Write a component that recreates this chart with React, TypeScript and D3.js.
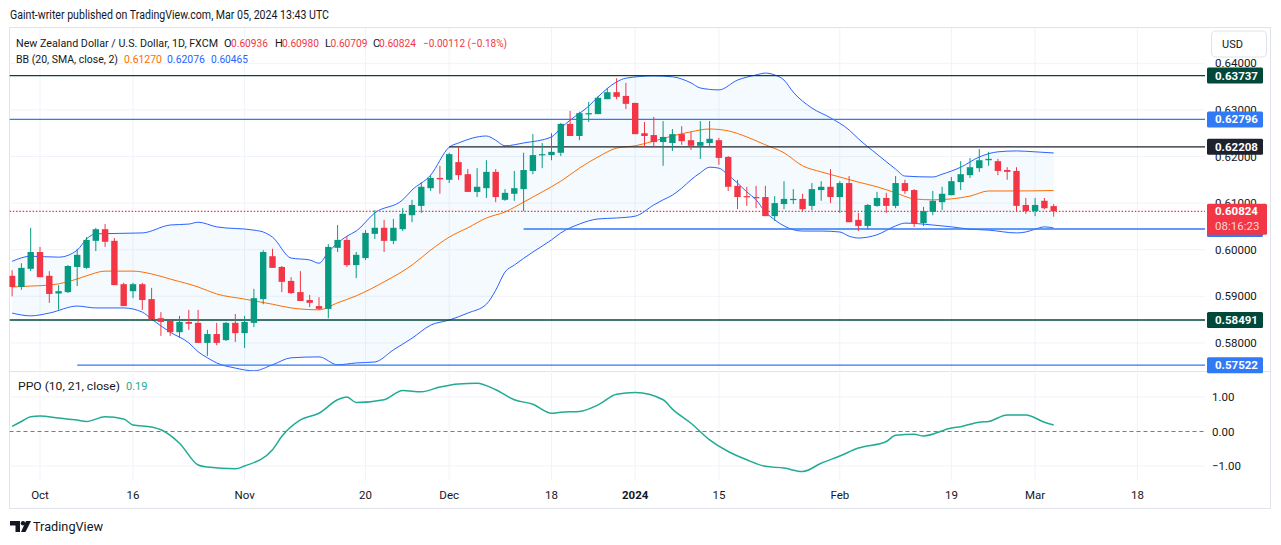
import * as d3 from "d3";

// NZD/USD daily candles, Sep 27 2023 -> Mar 05 2024 (bar index 0..112)
const open = [
  0.5944, 0.592, 0.5959, 0.5995, 0.5944, 0.5906, 0.5909, 0.5963, 0.5961, 0.6019,
  0.6044, 0.6019, 0.5926, 0.5911, 0.5926, 0.5894, 0.5853, 0.5847, 0.5823, 0.5845,
  0.5843, 0.58, 0.5819, 0.5806, 0.5843, 0.5821, 0.5843, 0.5894, 0.5986, 0.5963,
  0.5933, 0.5909, 0.5892, 0.5879, 0.5873, 0.6004, 0.6021, 0.5967, 0.5982, 0.6034,
  0.6047, 0.6019, 0.6044, 0.6074, 0.6094, 0.6132, 0.6154, 0.615, 0.6188, 0.6162,
  0.6124, 0.6132, 0.6167, 0.6107, 0.612, 0.613, 0.6169, 0.6203, 0.6203, 0.6208,
  0.627, 0.6244, 0.6291, 0.6291, 0.6323, 0.6338, 0.633, 0.6315, 0.625, 0.6246,
  0.6231, 0.6229, 0.6248, 0.6235, 0.6223, 0.6229, 0.6235, 0.6199, 0.6137, 0.6115,
  0.6113, 0.6113, 0.6072, 0.6098, 0.6107, 0.6109, 0.6094, 0.6128, 0.6135, 0.6113,
  0.6143, 0.6064, 0.6051, 0.6094, 0.6111, 0.6094, 0.6143, 0.6128, 0.6057, 0.6081,
  0.6102, 0.6117, 0.6145, 0.616, 0.6175, 0.6192, 0.619, 0.6171, 0.6169, 0.6096,
  0.6083, 0.6105, 0.60936,
];
const high = [
  0.5956, 0.5971, 0.6047, 0.6006, 0.5954, 0.5924, 0.5967, 0.6002, 0.6027, 0.6047,
  0.6055, 0.6025, 0.5929, 0.5929, 0.5929, 0.5918, 0.5866, 0.5849, 0.5858, 0.5871,
  0.5871, 0.5828, 0.5843, 0.5845, 0.5862, 0.5858, 0.5916, 0.5999, 0.6002, 0.5965,
  0.5941, 0.5954, 0.5903, 0.5898, 0.6012, 0.6053, 0.6029, 0.5995, 0.6042, 0.6085,
  0.6064, 0.6066, 0.6089, 0.6107, 0.6145, 0.616, 0.618, 0.6208, 0.622, 0.6173,
  0.6175, 0.6192, 0.6173, 0.613, 0.6169, 0.6208, 0.6248, 0.6229, 0.625, 0.6272,
  0.6298, 0.6296, 0.6317, 0.633, 0.6347, 0.6368, 0.6358, 0.6315, 0.6274, 0.6285,
  0.6276, 0.6259, 0.6265, 0.6253, 0.6276, 0.6276, 0.624, 0.6201, 0.615, 0.6135,
  0.6137, 0.6137, 0.6115, 0.6147, 0.613, 0.612, 0.6143, 0.6147, 0.6173, 0.6147,
  0.6158, 0.6079, 0.6098, 0.6124, 0.6122, 0.6158, 0.615, 0.613, 0.6092, 0.6126,
  0.6135, 0.6156, 0.619, 0.6197, 0.6216, 0.621, 0.6195, 0.6177, 0.6177, 0.6111,
  0.6111, 0.6111, 0.6098,
];
const low = [
  0.59, 0.5914, 0.5954, 0.5941, 0.5886, 0.5871, 0.5907, 0.5922, 0.5959, 0.5997,
  0.6006, 0.5924, 0.5879, 0.5896, 0.5871, 0.5851, 0.5815, 0.5815, 0.5811, 0.5828,
  0.58, 0.5772, 0.5795, 0.5804, 0.5802, 0.5789, 0.5834, 0.5883, 0.5961, 0.5909,
  0.5905, 0.589, 0.5877, 0.5871, 0.5853, 0.5995, 0.5963, 0.5939, 0.5978, 0.6023,
  0.5995, 0.6012, 0.604, 0.6059, 0.6079, 0.6126, 0.612, 0.6143, 0.615, 0.6124,
  0.6113, 0.6111, 0.6102, 0.6105, 0.6105, 0.6083, 0.6162, 0.6175, 0.6192, 0.6201,
  0.6244, 0.6235, 0.6274, 0.6291, 0.6323, 0.6323, 0.6302, 0.6248, 0.622, 0.622,
  0.618, 0.6212, 0.6225, 0.6214, 0.6195, 0.622, 0.6182, 0.6126, 0.6087, 0.6094,
  0.6089, 0.6072, 0.6062, 0.6087, 0.6098, 0.6083, 0.6085, 0.6105, 0.61, 0.6079,
  0.6059, 0.604, 0.6044, 0.6092, 0.6079, 0.6089, 0.612, 0.6049, 0.6051, 0.6074,
  0.6085, 0.6117, 0.6128, 0.6154, 0.6167, 0.618, 0.616, 0.615, 0.6083, 0.6077,
  0.6072, 0.6087, 0.60709,
];
const close = [
  0.592, 0.5961, 0.5995, 0.5941, 0.5905, 0.5911, 0.5965, 0.5989, 0.6021, 0.6044,
  0.6017, 0.5924, 0.5879, 0.5926, 0.5892, 0.5851, 0.5845, 0.5823, 0.5845, 0.5841,
  0.58, 0.5819, 0.58, 0.5843, 0.5821, 0.5845, 0.5896, 0.5995, 0.5961, 0.5931,
  0.5907, 0.589, 0.5886, 0.5873, 0.6006, 0.6021, 0.5967, 0.5989, 0.6036, 0.6047,
  0.6019, 0.6047, 0.6077, 0.6096, 0.6135, 0.6154, 0.6151, 0.6205, 0.616, 0.6124,
  0.6135, 0.6167, 0.6113, 0.6122, 0.6132, 0.6171, 0.6203, 0.6205, 0.621, 0.627,
  0.6244, 0.6293, 0.6293, 0.6326, 0.6338, 0.6328, 0.6313, 0.6248, 0.6244, 0.6231,
  0.6242, 0.6248, 0.6233, 0.6223, 0.6231, 0.6238, 0.6197, 0.6135, 0.6113, 0.6113,
  0.6111, 0.6072, 0.61, 0.6109, 0.6109, 0.6087, 0.613, 0.6135, 0.6113, 0.6143,
  0.6059, 0.6051, 0.6096, 0.6111, 0.6094, 0.6143, 0.6126, 0.6057, 0.6083, 0.6105,
  0.612, 0.6147, 0.6162, 0.6177, 0.6192, 0.6195, 0.6169, 0.6167, 0.6094, 0.6083,
  0.6096, 0.6089, 0.60824,
];

// Bollinger Bands (20, SMA, close, 2): [bar, price]
const bbUpper: [number, number][] = [
  [0, 0.5975], [2, 0.5986], [5, 0.5984], [7, 0.5999], [8, 0.6023], [9, 0.6034],
  [14, 0.6036], [17, 0.6053], [19, 0.6055], [20, 0.6059], [22, 0.6049], [26, 0.6042],
  [27, 0.6038], [28, 0.6027], [30, 0.5982], [32, 0.5978], [33, 0.5971], [34, 0.5995],
  [36, 0.6029], [37, 0.604], [39, 0.6079], [42, 0.6107], [43, 0.6128], [45, 0.616],
  [47, 0.622], [48, 0.6229], [51, 0.6244], [52, 0.6235], [53, 0.6223], [55, 0.6229],
  [58, 0.6242], [59, 0.6261], [60, 0.6278], [62, 0.6308], [63, 0.6328], [65, 0.636],
  [66, 0.6368], [69, 0.6373], [71, 0.6371], [73, 0.6358], [74, 0.6347], [76, 0.6343],
  [78, 0.6364], [80, 0.6375], [81, 0.6379], [82, 0.6375], [83, 0.6364], [84, 0.6338],
  [86, 0.6304], [88, 0.6283], [90, 0.6257], [91, 0.6238], [93, 0.6205], [95, 0.6173],
  [96, 0.6158], [99, 0.6156], [100, 0.6162], [102, 0.6177], [104, 0.6199], [106, 0.621],
  [108, 0.6212], [110, 0.621], [112, 0.62076],
];
const bbBasis: [number, number][] = [
  [0, 0.592], [2, 0.5922], [4, 0.5924], [6, 0.5931], [8, 0.5944], [10, 0.5954],
  [13, 0.5954], [15, 0.5948], [17, 0.5937], [20, 0.592], [22, 0.5905], [25, 0.5894],
  [28, 0.5883], [30, 0.5875], [33, 0.5871], [35, 0.5886], [37, 0.5901], [40, 0.5931],
  [43, 0.5967], [45, 0.5999], [47, 0.6027], [49, 0.6047], [51, 0.6068], [53, 0.6081],
  [55, 0.6102], [57, 0.6124], [59, 0.6147], [61, 0.6175], [63, 0.6199], [65, 0.6218],
  [67, 0.6223], [69, 0.6233], [71, 0.6244], [73, 0.6253], [75, 0.6259], [77, 0.6255],
  [79, 0.6242], [81, 0.6225], [83, 0.6208], [85, 0.618], [87, 0.6167], [89, 0.6156],
  [91, 0.6145], [93, 0.6135], [95, 0.6122], [97, 0.6109], [99, 0.6107], [101, 0.6109],
  [103, 0.6115], [105, 0.6126], [108, 0.6126], [112, 0.6127],
];
const bbLower: [number, number][] = [
  [0, 0.5864], [2, 0.5858], [4, 0.5864], [7, 0.5879], [9, 0.5875], [12, 0.5875],
  [14, 0.5866], [15, 0.5851], [17, 0.5823], [19, 0.58], [20, 0.5781], [21, 0.5768],
  [22, 0.5757], [24, 0.5746], [26, 0.574], [28, 0.5753], [30, 0.5768], [33, 0.577],
  [35, 0.5753], [37, 0.5757], [39, 0.5759], [41, 0.5785], [43, 0.581], [45, 0.5838],
  [47, 0.5849], [49, 0.5864], [51, 0.5883], [52, 0.5913], [53, 0.5952], [54, 0.5967],
  [56, 0.5995], [58, 0.6021], [59, 0.6036], [61, 0.6055], [63, 0.6066], [65, 0.6068],
  [67, 0.6072], [69, 0.6096], [70, 0.6107], [71, 0.6117], [72, 0.6132], [73, 0.615],
  [74, 0.6165], [75, 0.6177], [76, 0.6175], [77, 0.616], [78, 0.6143], [79, 0.6124],
  [80, 0.6107], [81, 0.6081], [82, 0.6064], [83, 0.6051], [85, 0.604], [87, 0.604],
  [89, 0.6038], [90, 0.6029], [91, 0.6025], [93, 0.6032], [95, 0.6051], [96, 0.6057],
  [99, 0.6053], [101, 0.6049], [103, 0.6044], [105, 0.6042], [108, 0.6036], [109, 0.6038],
  [110, 0.6044], [111, 0.6049], [112, 0.60465],
];

// PPO (10, 21, close): [bar, value]
const ppo: [number, number][] = [
  [0, 0.15], [1, 0.29], [2, 0.43], [3, 0.45], [5, 0.39], [7, 0.33], [8, 0.29],
  [10, 0.43], [12, 0.36], [13, 0.19], [15, 0.13], [16, 0.05], [18, -0.34], [20, -0.97],
  [21, -1.03], [24, -1.08], [25, -1.0], [28, -0.53], [29, -0.14], [31, 0.34], [33, 0.53],
  [35, 0.92], [36, 1.0], [37, 0.84], [40, 0.92], [42, 1.19], [44, 1.15], [46, 1.29],
  [48, 1.38], [50, 1.4], [52, 1.21], [54, 0.92], [56, 0.79], [58, 0.53], [59, 0.56],
  [61, 0.58], [63, 0.77], [65, 1.08], [67, 1.13], [70, 0.92], [71, 0.65], [73, 0.24],
  [75, -0.24], [77, -0.58], [79, -0.82], [81, -1.01], [83, -1.06], [85, -1.16],
  [87, -0.92], [89, -0.71], [91, -0.48], [94, -0.29], [95, -0.11], [97, -0.08],
  [98, -0.13], [101, 0.1], [102, 0.14], [104, 0.27], [105, 0.29], [107, 0.48],
  [109, 0.48], [111, 0.27], [112, 0.19],
];

const tickLabels = ["Oct", "16", "Nov", "20", "Dec", "18", "2024", "15", "Feb", "19", "Mar", "18"];
const tickBars = [3, 13, 25, 38, 47, 58, 67, 76, 89, 101, 110, 121];

const priceTicks = [0.64, 0.63, 0.62, 0.61, 0.6, 0.59, 0.58];
const ppoTicks = [1, 0, -1];

// horizontal levels drawn on the chart (start bar null = full width)
const levelPrices = [0.63737, 0.62796, 0.62208, 0.60444, 0.58491, 0.57522];
const levelStart: (number | null)[] = [null, null, 47, 55, null, 7];
const levelColors = ["#00483a", "#3179f5", "#1e222d", "#3179f5", "#00483a", "#3179f5"];

const lastPrice = 0.60824;
const countdown = "08:16:23";

const FONT = "Roboto, 'Noto Sans', Arial, sans-serif";
const GREEN = "#089981";
const RED = "#f23645";
const TEXT = "#131722";
const GRID = "#f0f3fa";

const fmt = d3.format(".5f");

export default function App() {
  const plotL = 9.5;
  const plotR = 1205;
  const mainTop = 28;
  const mainBottom = 371;
  const ppoBottom = 480;

  const x = d3.scaleLinear().domain([0, 112]).range([12.1, 1053.7]);
  const y = d3.scaleLinear().domain([0.58, 0.64]).range([342.9, 63.3]);
  const yp = d3.scaleLinear().domain([-1, 1]).range([466, 397]);

  const line = d3
    .line<[number, number]>()
    .x((d) => x(d[0]))
    .y((d) => y(d[1]))
    .curve(d3.curveMonotoneX);

  const bandPath =
    (line(bbUpper) || "") + "L" + (line([...bbLower].reverse()) || "").slice(1) + "Z";

  const ppoLine = d3
    .line<[number, number]>()
    .x((d) => x(d[0]))
    .y((d) => yp(d[1]))
    .curve(d3.curveMonotoneX);

  const bodyW = 6.4;

  return (
    <svg
      width={1281}
      height={545}
      style={{ position: "absolute", left: 0, top: 0, fontFamily: FONT }}
    >
      <defs>
        <clipPath id="mainClip">
          <rect x={plotL} y={mainTop} width={plotR - plotL} height={mainBottom - mainTop} />
        </clipPath>
        <clipPath id="ppoClip">
          <rect x={plotL} y={mainBottom + 1} width={plotR - plotL} height={ppoBottom - mainBottom} />
        </clipPath>
      </defs>
      <rect x={0} y={0} width={1281} height={545} fill="#fff" />

      {/* publisher header */}
      <text x={10} y={19} fontSize={12} fill={TEXT} textLength={319} lengthAdjust="spacingAndGlyphs">
        Gaint-writer published on TradingView.com, Mar 05, 2024 13:43 UTC
      </text>

      {/* frame */}
      <rect x={9.5} y={27.5} width={1261} height={481} fill="none" stroke="#e0e3eb" />
      <line x1={9.5} x2={1270.5} y1={mainBottom + 0.5} y2={mainBottom + 0.5} stroke="#e0e3eb" />

      {/* grid */}
      {tickBars.map((b, i) => (
        <line key={"vg" + i} x1={x(b)} x2={x(b)} y1={mainTop} y2={ppoBottom} stroke={GRID} />
      ))}
      {priceTicks.map((p) => (
        <line key={"hg" + p} x1={plotL} x2={plotR} y1={y(p)} y2={y(p)} stroke={GRID} />
      ))}
      {[1, -1].map((p) => (
        <line key={"pg" + p} x1={plotL} x2={plotR} y1={yp(p)} y2={yp(p)} stroke={GRID} />
      ))}

      <g clipPath="url(#mainClip)">
        {/* Bollinger bands */}
        <path d={bandPath} fill="rgba(33,150,243,0.05)" />
        <path d={line(bbUpper) || ""} fill="none" stroke="#2962ff" strokeWidth={1} />
        <path d={line(bbLower) || ""} fill="none" stroke="#2962ff" strokeWidth={1} />
        <path d={line(bbBasis) || ""} fill="none" stroke="#ff6d00" strokeWidth={1} />

        {/* levels */}
        {levelPrices.map((p, i) => (
          <line
            key={"lv" + i}
            x1={levelStart[i] === null ? plotL : x(levelStart[i] as number)}
            x2={plotR}
            y1={y(p)}
            y2={y(p)}
            stroke={levelColors[i]}
            strokeWidth={1.3}
          />
        ))}

        {/* last price */}
        <line
          x1={plotL}
          x2={plotR}
          y1={y(lastPrice)}
          y2={y(lastPrice)}
          stroke={RED}
          strokeWidth={1.2}
          strokeDasharray="1.5 1.8"
        />

        {/* candles */}
        {open.map((o, i) => {
          const c = close[i];
          const col = c >= o ? GREEN : RED;
          const top = y(Math.max(o, c));
          const bot = y(Math.min(o, c));
          const cx = x(i);
          return (
            <g key={"c" + i}>
              <line x1={cx} x2={cx} y1={y(high[i])} y2={y(low[i])} stroke={col} strokeWidth={1} />
              <rect
                x={cx - bodyW / 2}
                y={top}
                width={bodyW}
                height={Math.max(1.2, bot - top)}
                fill={col}
              />
            </g>
          );
        })}
      </g>

      {/* PPO pane */}
      <g clipPath="url(#ppoClip)">
        <line
          x1={plotL}
          x2={plotR}
          y1={yp(0)}
          y2={yp(0)}
          stroke="#787b86"
          strokeDasharray="4 3"
        />
        <path d={ppoLine(ppo) || ""} fill="none" stroke="#22ab94" strokeWidth={1.5} />
      </g>

      {/* price axis ticks */}
      {priceTicks.map((p) => (
        <text key={"pt" + p} x={1215} y={y(p)} dy="0.35em" fontSize={11.5} fill={TEXT}>
          {fmt(p)}
        </text>
      ))}
      {ppoTicks.map((p) => (
        <text key={"ppt" + p} x={1212} y={yp(p)} dy="0.35em" fontSize={11.5} fill={TEXT}>
          {p < 0 ? "\u2212" + Math.abs(p).toFixed(2) : p.toFixed(2)}
        </text>
      ))}

      {/* level labels */}
      {levelPrices.map((p, i) => (
        <g key={"ll" + i}>
          <rect x={1207} y={y(p) - 8} width={56} height={16} rx={1.5} fill={levelColors[i]} />
          <text
            x={1215}
            y={y(p)}
            dy="0.35em"
            fontSize={11.5}
            fontWeight={700}
            fill="#fff"
          >
            {fmt(p)}
          </text>
        </g>
      ))}
      <rect x={1207} y={y(lastPrice) - 7.5} width={60} height={31} rx={1.5} fill={RED} />
      <text x={1215} y={y(lastPrice)} dy="0.35em" fontSize={11.5} fontWeight={700} fill="#fff">
        {fmt(lastPrice)}
      </text>
      <text x={1215} y={y(lastPrice) + 14.5} dy="0.35em" fontSize={11.5} fill="#ffd6d9">
        {countdown}
      </text>

      {/* USD button */}
      <rect x={1211.5} y={31} width={55} height={26} rx={4} fill="#fff" stroke="#e0e3eb" />
      <text x={1222} y={44} dy="0.35em" fontSize={11} fill={TEXT}>
        USD
      </text>

      {/* time axis */}
      {tickLabels.map((t, i) =>
        x(tickBars[i]) < 1200 ? (
          <text
            key={"tl" + i}
            x={x(tickBars[i])}
            y={495}
            dy="0.35em"
            textAnchor="middle"
            fontSize={11.5}
            fontWeight={t === "2024" ? 700 : 400}
            fill={TEXT}
          >
            {t}
          </text>
        ) : null
      )}

      {/* legends */}
      <g fontSize={11}>
        <text x={16} y={46.5} fill={TEXT} textLength={202} lengthAdjust="spacingAndGlyphs">
          New Zealand Dollar / U.S. Dollar, 1D, FXCM
        </text>
        <text x={224} y={46.5} fill={TEXT}>O</text>
        <text x={231} y={46.5} fill={RED} textLength={37} lengthAdjust="spacingAndGlyphs">
          {fmt(open[112])}
        </text>
        <text x={275} y={46.5} fill={TEXT}>H</text>
        <text x={282} y={46.5} fill={RED} textLength={37} lengthAdjust="spacingAndGlyphs">
          {fmt(high[112])}
        </text>
        <text x={325} y={46.5} fill={TEXT}>L</text>
        <text x={330.5} y={46.5} fill={RED} textLength={37} lengthAdjust="spacingAndGlyphs">
          {fmt(low[112])}
        </text>
        <text x={373} y={46.5} fill={TEXT}>C</text>
        <text x={379} y={46.5} fill={RED} textLength={37} lengthAdjust="spacingAndGlyphs">
          {fmt(close[112])}
        </text>
        <text x={423} y={46.5} fill={RED} textLength={84} lengthAdjust="spacingAndGlyphs">
          {"\u22120.00112 (\u22120.18%)"}
        </text>

        <text x={16} y={63} fill={TEXT} textLength={102} lengthAdjust="spacingAndGlyphs">
          BB (20, SMA, close, 2)
        </text>
        <text x={124} y={63} fill="#ff6d00" textLength={38} lengthAdjust="spacingAndGlyphs">
          {fmt(bbBasis[bbBasis.length - 1][1])}
        </text>
        <text x={167} y={63} fill="#2962ff" textLength={38} lengthAdjust="spacingAndGlyphs">
          {fmt(bbUpper[bbUpper.length - 1][1])}
        </text>
        <text x={211} y={63} fill="#2962ff" textLength={37} lengthAdjust="spacingAndGlyphs">
          {fmt(bbLower[bbLower.length - 1][1])}
        </text>

        <text x={18} y={390} fill={TEXT} textLength={102} lengthAdjust="spacingAndGlyphs">
          PPO (10, 21, close)
        </text>
        <text x={126} y={390} fill="#22ab94">
          {ppo[ppo.length - 1][1].toFixed(2)}
        </text>
      </g>

      {/* footer logo */}
      <g fill={TEXT}>
        <path d="M10 521 h10 v11 h-4.5 v-6.5 h-5.5 z" />
        <circle cx={23} cy={523.2} r={2.2} />
        <path d="M26 521 h5 l-5.5 11 h-4.5 z" />
        <text x={33} y={531} fontSize={13} textLength={70} lengthAdjust="spacingAndGlyphs">
          TradingView
        </text>
      </g>
    </svg>
  );
}
